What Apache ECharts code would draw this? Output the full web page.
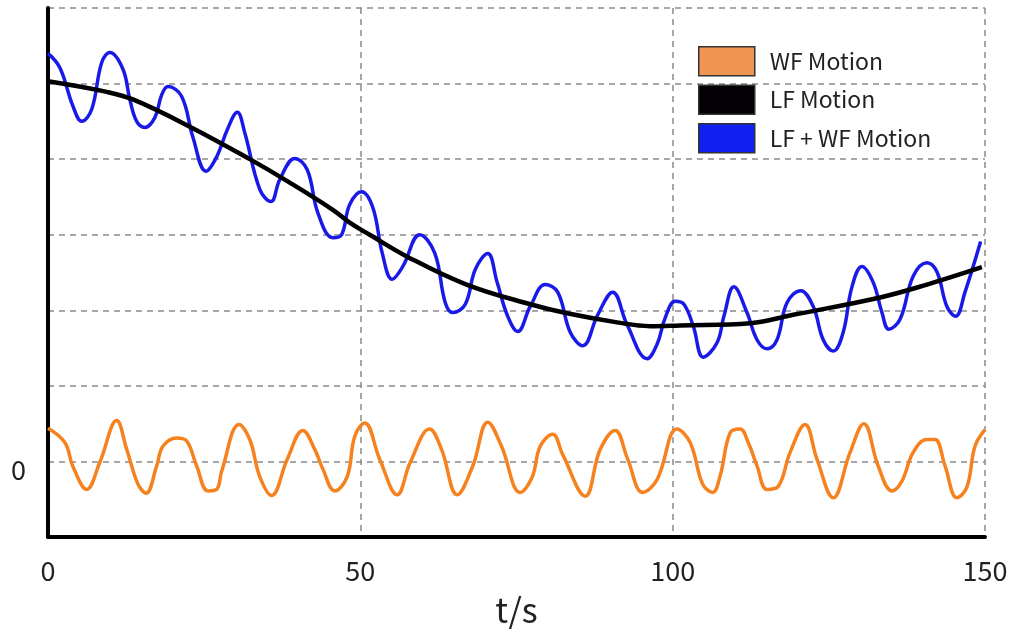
<!DOCTYPE html>
<html>
<head>
<meta charset="utf-8">
<title>LF / WF Motion</title>
<script src="https://cdn.jsdelivr.net/npm/echarts@6/dist/echarts.min.js"></script>
<style>
  html, body { margin: 0; padding: 0; background: #fff; }
  #chart { width: 1011px; height: 637px; }
</style>
</head>
<body>
<div id="chart"></div>
<script>
// Wave-frequency motion: [t, value]
const wfMotion = [
  [0, 0.44], [2.7, 0.25], [4, -0.07], [6.2, -0.37], [8.3, -0.01], [11, 0.54], [12.6, 0.16],
  [14.4, -0.3], [15.7, -0.42], [17.4, -0.06], [18.4, 0.2], [20.6, 0.31], [22.2, 0.27],
  [23.8, -0.06], [25.6, -0.39], [27, -0.37], [27.8, -0.13], [30.6, 0.49], [32.3, 0.29],
  [33.9, -0.2], [35.8, -0.45], [38.3, 0.03], [40.8, 0.41], [42.7, 0.16], [44, -0.1],
  [45.9, -0.39], [47.9, -0.2], [49.1, 0.33], [50.7, 0.51], [53.1, 0.03], [55.9, -0.44],
  [58, -0.01], [61.1, 0.43], [63, 0.16], [65.5, -0.44], [68, -0.06], [70.4, 0.52],
  [72.6, 0.2], [75.6, -0.41], [77.5, -0.21], [78.8, 0.2], [80.8, 0.36], [82.4, 0.09],
  [86, -0.46], [88.4, 0.16], [90.8, 0.41], [92.8, 0.03], [95.2, -0.41], [97.5, -0.24],
  [100.7, 0.43], [102.8, 0.25], [104.8, -0.3], [106.4, -0.41], [107.6, -0.19], [109.2, 0.38],
  [110.8, 0.43], [112.1, 0.25], [113.5, -0.06], [115.1, -0.37], [116.9, -0.33], [118.8, 0.12],
  [121.2, 0.49], [123.1, 0.03], [125.7, -0.48], [128.4, 0.12], [130.6, 0.5], [132.9, -0.06],
  [135.1, -0.39], [136.7, -0.26], [138.5, 0.12], [140.7, 0.29], [142, 0.29], [143.6, -0.06],
  [145.5, -0.48], [147.1, -0.34], [148.4, 0.2], [150, 0.42]
];

// Low-frequency motion: [t, value]
const lfMotion = [
  [0, 5.03], [9.4, 4.89], [13.6, 4.79], [22.7, 4.43], [32.3, 4.0], [38.7, 3.69],
  [45.6, 3.33], [48.3, 3.16], [51.5, 3.0], [57.5, 2.71], [67, 2.34], [77.2, 2.08],
  [83.1, 1.96], [91.1, 1.84], [96.4, 1.79], [101.2, 1.80], [112.4, 1.83], [119.3, 1.94],
  [133.2, 2.17], [140.7, 2.34], [149.5, 2.57]
];

// Combined LF + WF motion: [t, value]
const combinedMotion = [
  [0, 5.40], [1.9, 5.21], [4, 4.7], [5.4, 4.5], [7, 4.66], [8.6, 5.28], [9.9, 5.41],
  [12, 5.19], [13.1, 4.79], [14.2, 4.5], [15.5, 4.42], [17.1, 4.55], [18.2, 4.85],
  [19.2, 4.96], [21.4, 4.83], [23.2, 4.29], [25.3, 3.84], [27, 4.03], [28.7, 4.39],
  [30.3, 4.62], [31.5, 4.35], [33.9, 3.6], [35.7, 3.44], [37.1, 3.73], [39.5, 4.01],
  [41.5, 3.86], [43.2, 3.29], [45.6, 2.96], [47, 3.0], [48.3, 3.40], [50.2, 3.57],
  [52, 3.36], [53.5, 2.76], [55.1, 2.41], [56.8, 2.58], [59.5, 3.0], [61.9, 2.76],
  [63.6, 2.1], [64.8, 1.97], [66.8, 2.08], [68.4, 2.54], [70.4, 2.75], [71.9, 2.37],
  [73.6, 1.92], [75.2, 1.72], [77.2, 2.05], [79.6, 2.34], [81.6, 2.24], [83.6, 1.71],
  [85.6, 1.53], [88, 1.94], [90.4, 2.24], [92.7, 1.81], [95.9, 1.36], [97.5, 1.55],
  [98.8, 1.9], [100.4, 2.12], [101.8, 2.08], [103.3, 1.79], [104.9, 1.38], [107.1, 1.57],
  [108.2, 1.92], [109.8, 2.31], [111.9, 1.97], [113.5, 1.61], [115.1, 1.49], [116.7, 1.61],
  [118.3, 2.1], [120.5, 2.26], [122.5, 2.05], [124.1, 1.61], [125.7, 1.46], [127.3, 1.71],
  [128.7, 2.31], [130.3, 2.58], [132.1, 2.37], [133.5, 1.97], [134.6, 1.75], [136.4, 1.88],
  [138.5, 2.45], [140.7, 2.63], [142.3, 2.51], [143.9, 2.05], [145.3, 1.92], [146.8, 2.24],
  [149.3, 2.91]
];

const xTicks = [0, 50, 100, 150];
const yTickLabels = { 0: '0' };

const FONT = '"Noto Sans CJK JP", "Noto Sans", sans-serif';
const gridLine = { show: true, lineStyle: { color: '#8a8a8a', type: [6, 5], width: 1.5 } };

const chart = echarts.init(document.getElementById('chart'), null, { renderer: 'canvas' });

chart.setOption({
  backgroundColor: '#ffffff',
  animation: false,
  grid: { left: 48, right: 26, top: 8, bottom: 100, containLabel: false, outerBoundsMode: 'none' },
  legend: {
    orient: 'vertical',
    left: 693,
    top: 41,
    icon: 'rect',
    itemWidth: 56,
    itemHeight: 29,
    itemGap: 8,
    textStyle: { fontFamily: FONT, fontSize: 23, color: '#222', padding: [0, 0, 0, 10] },
    data: [
      { name: 'WF Motion', itemStyle: { color: '#ef9654', borderColor: '#333', borderWidth: 1.5 } },
      { name: 'LF Motion', itemStyle: { color: '#050005', borderColor: '#333', borderWidth: 1.5 } },
      { name: 'LF + WF Motion', itemStyle: { color: '#1020ee', borderColor: '#333', borderWidth: 1.5 } }
    ]
  },
  xAxis: {
    type: 'value',
    min: 0,
    max: 150,
    interval: 50,
    name: 't/s',
    nameLocation: 'middle',
    nameGap: 56,
    nameTextStyle: { fontFamily: FONT, fontSize: 34, color: '#222' },
    axisLine: { show: true, onZero: false, lineStyle: { color: '#000', width: 4 } },
    axisTick: { show: false },
    axisLabel: {
      margin: 20,
      fontFamily: FONT,
      fontSize: 27,
      color: '#222',
      formatter: v => (xTicks.includes(v) ? String(v) : '')
    },
    splitLine: gridLine
  },
  yAxis: {
    type: 'value',
    min: -1,
    max: 6,
    interval: 1,
    axisLine: { show: true, onZero: false, lineStyle: { color: '#000', width: 4 } },
    axisTick: { show: false },
    axisLabel: {
      margin: 22,
      fontFamily: FONT,
      fontSize: 27,
      color: '#222',
      verticalAlign: 'top',
      lineHeight: 16,
      formatter: v => yTickLabels[v] || ''
    },
    splitLine: gridLine
  },
  series: [
    {
      name: 'WF Motion',
      type: 'line',
      data: wfMotion,
      smooth: 0.4,
      showSymbol: false,
      color: '#f5821f',
      lineStyle: { color: '#f5821f', width: 3.5 },
      z: 2
    },
    {
      name: 'LF + WF Motion',
      type: 'line',
      data: combinedMotion,
      smooth: 0.4,
      showSymbol: false,
      color: '#1a1ae8',
      lineStyle: { color: '#1a1ae8', width: 3.5 },
      z: 3
    },
    {
      name: 'LF Motion',
      type: 'line',
      data: lfMotion,
      smooth: 0.4,
      showSymbol: false,
      color: '#000',
      lineStyle: { color: '#000', width: 4.5 },
      z: 4
    }
  ]
});
</script>
</body>
</html>
